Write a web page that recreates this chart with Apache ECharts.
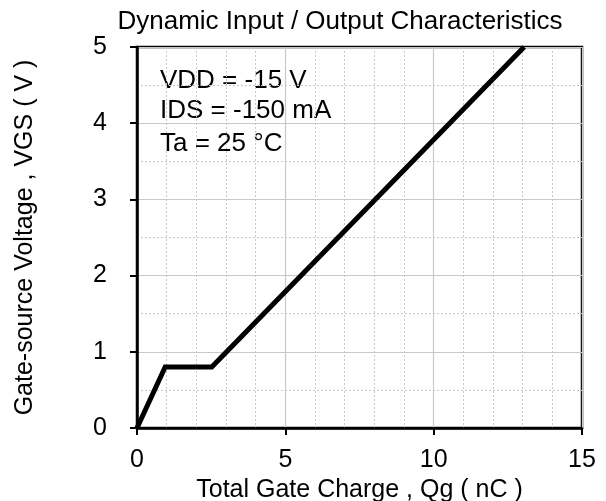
<!DOCTYPE html>
<html><head><meta charset="utf-8">
<script src="https://cdn.jsdelivr.net/npm/echarts@6/dist/echarts.min.js"></script>
<style>html,body{margin:0;padding:0;background:#fff}#c{width:606px;height:501px}</style>
</head><body><div id="c"></div>
<script>
var qg = [0, 0.95, 2.52, 13.05];
var vgs = [0, 0.8, 0.8, 5];
var xTicks = [0, 5, 10, 15];
var yTicks = [0, 1, 2, 3, 4, 5];
var notes = ['VDD = -15 V', 'IDS = -150 mA', 'Ta = 25 \u00b0C'];
var titleText = 'Dynamic Input / Output Characteristics';
var xName = 'Total Gate Charge , Qg ( nC )';
var yName = 'Gate-source Voltage , VGS ( V )';

var F = 'Liberation Sans, Arial, sans-serif';
var FS = 25;
var chart = echarts.init(document.getElementById('c'));
var pts = qg.map(function (x, i) { return [x, vgs[i]]; });
var noteY = [81, 111, 144];
var g = notes.map(function (t, i) {
  return { type: 'text', x: 160, y: noteY[i],
    style: { text: t, fontFamily: F, fontSize: 26, fill: '#000', verticalAlign: 'middle' } };
});
g.push({ type: 'text', x: 340, y: 22,
  style: { text: titleText, fontFamily: F, fontSize: 26, fill: '#000', align: 'center', verticalAlign: 'middle' } });
chart.setOption({
  animation: false,
  grid: { left: 137, right: 24, top: 47, bottom: 73, outerBoundsMode: 'none', containLabel: false,
    show: true, borderColor: '#000', borderWidth: 2.5 },
  xAxis: { type: 'value', min: xTicks[0], max: xTicks[xTicks.length - 1], interval: 5,
    name: xName, nameLocation: 'middle', nameGap: 46,
    nameTextStyle: { fontFamily: F, fontSize: FS, color: '#000' },
    axisLine: { show: true, lineStyle: { color: '#000', width: 2.5 } },
    axisTick: { show: true, inside: false, length: 7, lineStyle: { color: '#000', width: 2 } },
    axisLabel: { fontFamily: F, fontSize: FS, color: '#000', margin: 20 },
    splitLine: { show: true, lineStyle: { color: '#c8c8c8', width: 1.2 } },
    minorTick: { show: false, splitNumber: 5 },
    minorSplitLine: { show: true, lineStyle: { color: '#c8c8c8', width: 1, type: [2, 2] } } },
  yAxis: { type: 'value', min: yTicks[0], max: yTicks[yTicks.length - 1], interval: 1,
    name: yName, nameLocation: 'middle', nameGap: 99, nameRotate: 90,
    nameTextStyle: { fontFamily: F, fontSize: FS, color: '#000' },
    axisLine: { show: true, lineStyle: { color: '#000', width: 2.5 } },
    axisTick: { show: true, inside: false, length: 7, lineStyle: { color: '#000', width: 2 } },
    axisLabel: { fontFamily: F, fontSize: FS, color: '#000', margin: 30 },
    splitLine: { show: true, lineStyle: { color: '#c8c8c8', width: 1.2 } },
    minorTick: { show: false, splitNumber: 2 },
    minorSplitLine: { show: true, lineStyle: { color: '#c8c8c8', width: 1, type: [2, 2] } } },
  graphic: g,
  series: [{ type: 'line', data: pts, symbol: 'none', clip: true,
    lineStyle: { color: '#000', width: 5, join: 'miter' } }]
});
</script></body></html>
